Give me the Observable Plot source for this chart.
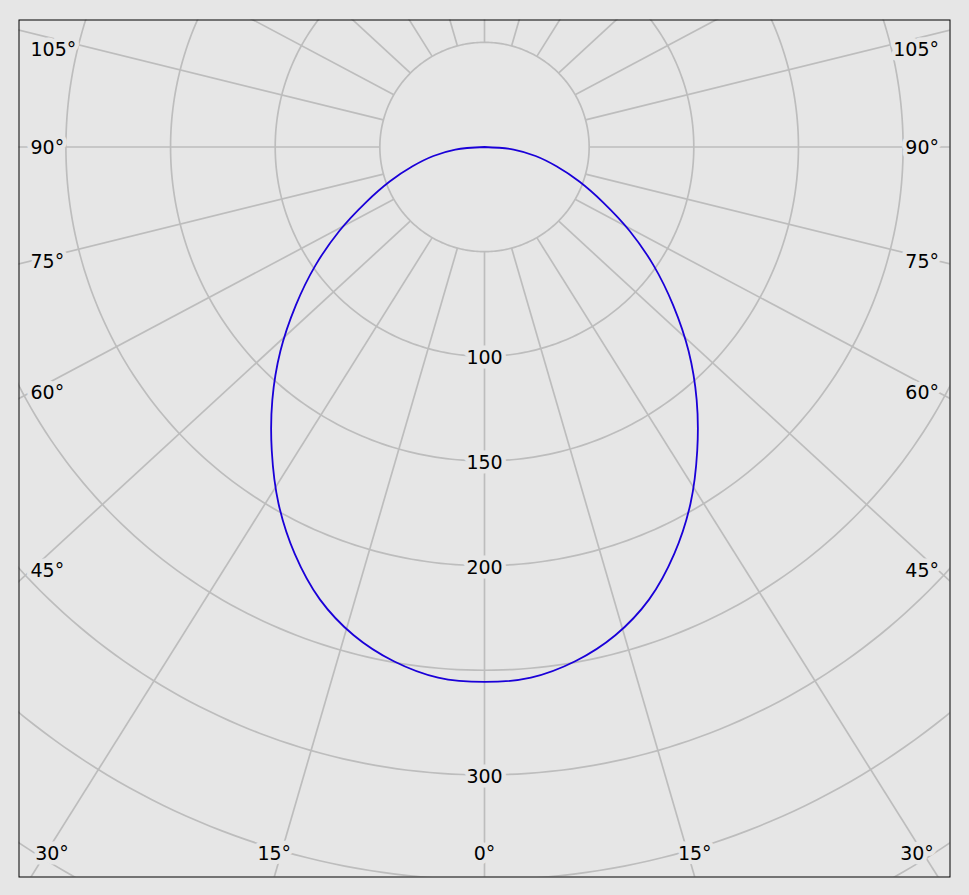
<!DOCTYPE html>
<html>
<head>
<meta charset="utf-8">
<script src="https://cdn.jsdelivr.net/npm/d3@7"></script>
<script src="https://cdn.jsdelivr.net/npm/@observablehq/plot@0.6"></script>
<style>
  html, body { margin: 0; padding: 0; background: #e6e6e6; }
  #chart svg { display: block; }
</style>
</head>
<body>
<div id="chart"></div>
<script>
// ---- data (luminous intensity, cd/klm) ----
const angles    = [0, 5, 10, 15, 20, 25, 30, 35, 40, 45, 50, 55, 60, 65, 70, 75, 80, 85, 90];
const intensity = [255.6, 254.5, 249.5, 241.5, 230, 214.5, 196.8, 177.2, 157.7, 137.9, 117.7, 98.6, 80, 62.5, 48.2, 35.6, 24.8, 14, 0];
const ringValues = [50, 100, 150, 200, 250, 300, 350, 400];
const ringLabels = [100, 150, 200, 300];
const spokeAngles = d3.range(0, 360, 15);
const angleLabels = [0, 15, 30, 45, 60, 75, 90, 105];

// ---- layout ----
const W = 969, H = 895;
const CX = 484, CY = 146.5, K = 2.093;       // centre (px) and px per cd
const L = 18.5, T = 19.5, R = 949.5, B = 876.5; // frame
const S = 0.92;                               // spoke direction squash of the original diagram
const r0 = ringValues[0];
const rad = d => d * Math.PI / 180;
const toX = px => (px - CX) / K;
const toY = py => (CY - py) / K;

// curve (symmetric)
const curve = [];
for (let i = angles.length - 1; i > 0; i--) curve.push({a: -angles[i], v: intensity[i]});
for (let i = 0; i < angles.length; i++) curve.push({a: angles[i], v: intensity[i]});
curve.forEach(d => { d.x = d.v * Math.sin(rad(d.a)); d.y = -d.v * Math.cos(rad(d.a)); });

// rings
const ringPts = [];
for (const r of ringValues) for (let a = 0; a <= 360; a += 1)
  ringPts.push({r, x: r * Math.sin(rad(a)), y: -r * Math.cos(rad(a))});

// spokes
const spokes = spokeAngles.map(a => {
  const sn = Math.sin(rad(a)), cs = Math.cos(rad(a));
  const n = Math.hypot(sn, S * cs), len = 800;
  const x1 = r0 * sn, y1 = -r0 * cs;
  return {a, x1, y1, x2: x1 + len * sn / n, y2: y1 - len * S * cs / n};
});

// angle label positions
const sideLabels = [], bottomLabels = [];
for (const a of angleLabels) {
  const sn = Math.sin(rad(a)), cs = Math.cos(rad(a));
  const px = CX - K * r0 * sn, py = CY + K * r0 * cs; // left-hand spoke start
  if (a === 0) { bottomLabels.push({t: "0°", x: toX(CX), y: toY(B - 24)}); continue; }
  const tEdge = (px - L) / sn;
  const yEdge = py + tEdge * S * cs;
  if (yEdge < B) {
    const t = (px - (L + 12)) / sn;
    const yy = Math.max(T + 28.5, Math.min(B - 24, py + t * S * cs));
    sideLabels.push({t: a + "°", side: "left", x: toX(L + 11.5), y: toY(yy)});
    sideLabels.push({t: a + "°", side: "right", x: toX(R - 11), y: toY(yy)});
  } else {
    const t = (B - py) / (S * cs);
    const xl = Math.max(L + 33, px - t * sn);
    const xr = 2 * CX - xl;
    bottomLabels.push({t: a + "°", x: toX(xl), y: toY(B - 24)});
    bottomLabels.push({t: a + "°", x: toX(xr), y: toY(B - 24)});
  }
}

const BG = "#e6e6e6", GRID = "#bdbdbd";
const textOpts = {fontSize: 19, fill: "black", stroke: BG, strokeWidth: 9, fontFamily: "DejaVu Sans", dy: 1};

const chart = Plot.plot({
  width: W, height: H,
  marginLeft: L, marginTop: T, marginRight: W - R, marginBottom: H - B,
  x: {domain: [toX(L), toX(R)], axis: null},
  y: {domain: [toY(B), toY(T)], axis: null},
  style: {background: BG, fontFamily: "DejaVu Sans"},
  marks: [
    Plot.line(ringPts, {x: "x", y: "y", z: "r", stroke: GRID, strokeWidth: 1.7, clip: true}),
    Plot.link(spokes, {x1: "x1", y1: "y1", x2: "x2", y2: "y2", stroke: GRID, strokeWidth: 1.7, clip: true}),
    Plot.line(curve, {x: "x", y: "y", stroke: "#1a00d8", strokeWidth: 1.8, curve: "catmull-rom", clip: true}),
    Plot.text(ringLabels, {x: () => 0, y: d => -d, text: d => String(d), textAnchor: "middle", ...textOpts, dy: 2}),
    Plot.text(sideLabels.filter(d => d.side === "left"), {x: "x", y: "y", text: "t", textAnchor: "start", ...textOpts}),
    Plot.text(sideLabels.filter(d => d.side === "right"), {x: "x", y: "y", text: "t", textAnchor: "end", ...textOpts}),
    Plot.text(bottomLabels, {x: "x", y: "y", text: "t", textAnchor: "middle", ...textOpts}),
    Plot.frame({stroke: "black", strokeWidth: 1})
  ]
});
document.getElementById("chart").appendChild(chart);
</script>
</body>
</html>
